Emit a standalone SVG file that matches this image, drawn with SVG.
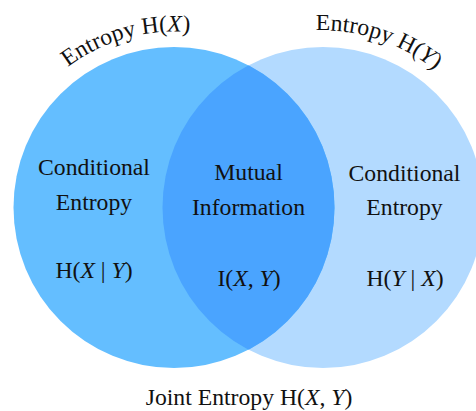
<svg xmlns="http://www.w3.org/2000/svg" width="476" height="411" viewBox="0 0 476 411">
  <style>
    text { font-family: "Liberation Serif", "Times New Roman", serif; font-size: 23.7px; fill: #111; }
    .c { text-anchor: middle; }
    .i { font-style: italic; }
  </style>
  <defs>
    <clipPath id="clipX"><circle cx="174" cy="207.5" r="160.5"/></clipPath>
    <path id="arcX" d="M 3.23 164.92 A 176 176 0 0 1 296.26 80.90"/>
    <path id="arcY" d="M 205.5 75.1 A 177 177 0 0 1 496.4 171.9"/>
  </defs>
  <rect width="476" height="411" fill="#ffffff"/>
  <g id="circleY">
    <circle cx="323" cy="207.5" r="160.5" fill="#B3DAFF"/>
  </g>
  <g id="circleX">
    <circle cx="174" cy="207.5" r="160.5" fill="#64BEFF"/>
  </g>
  <g id="intersection">
    <circle cx="323" cy="207.5" r="160.5" fill="#4AA4FF" clip-path="url(#clipX)"/>
  </g>
  <g id="connectors"/>
  <g id="labelEntropyX">
    <text><textPath href="#arcX" startOffset="50%" text-anchor="middle">Entropy H(<tspan class="i">X</tspan>)</textPath></text>
  </g>
  <g id="labelEntropyY">
    <text><textPath href="#arcY" startOffset="50%" text-anchor="middle">Entropy H(<tspan class="i">Y</tspan>)</textPath></text>
  </g>
  <g id="condX">
    <text class="c" x="94" y="175">Conditional</text>
    <text class="c" x="94" y="210">Entropy</text>
    <text class="c" x="94" y="278">H(<tspan class="i">X</tspan> | <tspan class="i">Y</tspan>)</text>
  </g>
  <g id="mutual">
    <text class="c" x="248.5" y="180">Mutual</text>
    <text class="c" x="248.5" y="215">Information</text>
    <text class="c" x="249" y="286">I(<tspan class="i">X</tspan>, <tspan class="i">Y</tspan>)</text>
  </g>
  <g id="condY">
    <text class="c" x="404.5" y="181">Conditional</text>
    <text class="c" x="404.5" y="215">Entropy</text>
    <text class="c" x="405" y="286">H(<tspan class="i">Y</tspan> | <tspan class="i">X</tspan>)</text>
  </g>
  <g id="joint">
    <text class="c" x="249" y="405">Joint Entropy H(<tspan class="i">X</tspan>, <tspan class="i">Y</tspan>)</text>
  </g>
</svg>
